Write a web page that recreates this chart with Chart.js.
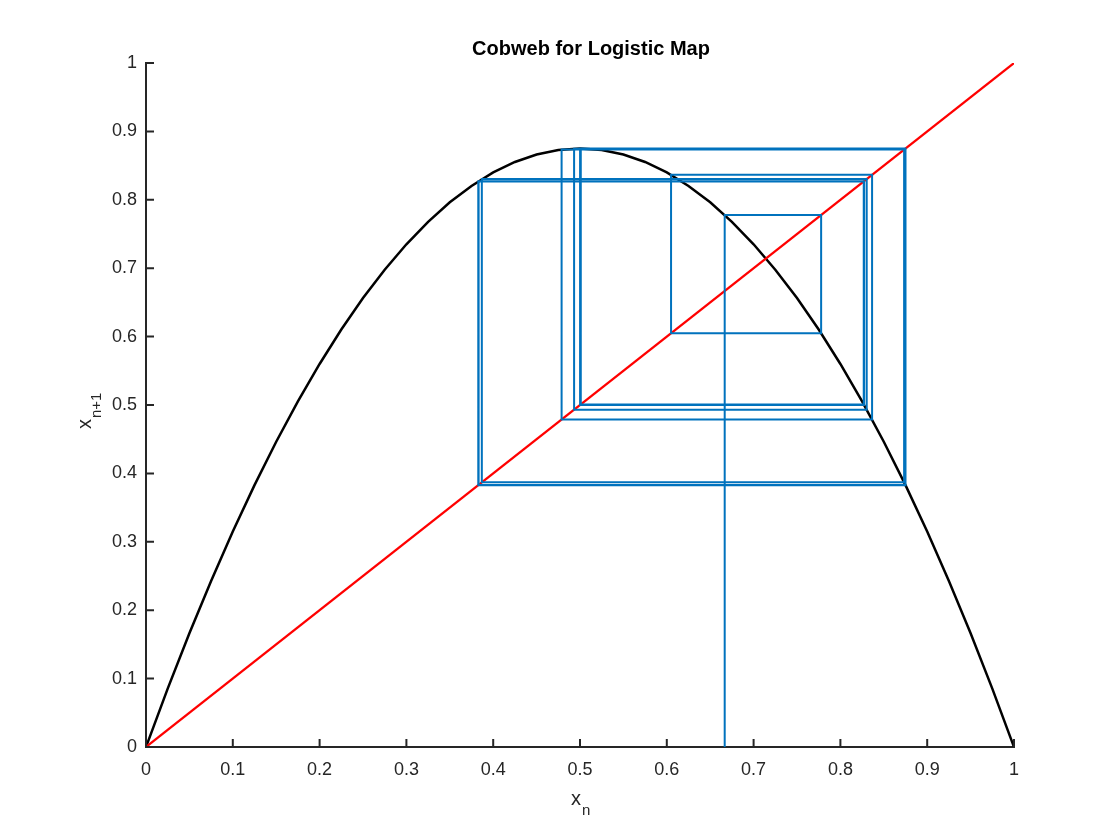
<!DOCTYPE html>
<html>
<head>
<meta charset="utf-8">
<script src="https://cdn.jsdelivr.net/npm/chart.js@4"></script>
<style>
  html, body { margin: 0; padding: 0; background: #fff; }
  #wrap { width: 1120px; height: 840px; }
</style>
</head>
<body>
<div id="wrap"><canvas id="cobweb" width="1120" height="840"></canvas></div>
<script>
// tick labels
const xTickLabels = ['0','0.1','0.2','0.3','0.4','0.5','0.6','0.7','0.8','0.9','1'];
const yTickLabels = ['0','0.1','0.2','0.3','0.4','0.5','0.6','0.7','0.8','0.9','1'];

// logistic curve (r ~ 3.5)
const curveX = [0,0.025,0.05,0.075,0.1,0.125,0.15,0.175,0.2,0.225,0.25,0.275,0.3,0.325,0.35,0.375,0.4,0.425,0.45,0.475,0.5,
                0.525,0.55,0.575,0.6,0.625,0.65,0.675,0.7,0.725,0.75,0.775,0.8,0.825,0.85,0.875,0.9,0.925,0.95,0.975,1];
const curveY = [0,0.0853,0.1663,0.2428,0.315,0.3828,0.4463,0.5053,0.56,0.6103,0.6563,0.6978,0.735,0.7678,0.7963,0.8203,0.84,0.8553,0.8663,0.8728,0.875,
                0.8728,0.8663,0.8553,0.84,0.8203,0.7963,0.7678,0.735,0.6978,0.6563,0.6103,0.56,0.5053,0.4463,0.3828,0.315,0.2428,0.1663,0.0853,0];

// diagonal y = x
const diagX = [0, 1];
const diagY = [0, 1];

// orbit values x0, x1, x2 ... (cobweb corners)
const orbit = [0.6667,0.7778,0.6049,0.8365,0.4788,0.8734,0.3869,0.8303,0.4932,0.8748,0.3832,0.8273,0.5001,0.875,
               0.3828,0.8269,0.5009,0.875,0.3828,0.8269,0.5009,0.875,0.3828,0.8269,0.5009,0.875];

const FONT = '"Liberation Sans", Arial, Helvetica, sans-serif';
const AXIS = '#262626';

function pts(xs, ys){ return xs.map((x, i) => ({ x: x, y: ys[i] })); }

function cobwebPts(o){
  const p = [{ x: o[0], y: 0 }];
  for (let i = 0; i < o.length - 1; i++){
    p.push({ x: o[i], y: o[i+1] });
    p.push({ x: o[i+1], y: o[i+1] });
  }
  return p;
}

// inward ticks, title and subscripted axis labels
const decor = {
  id: 'decor',
  afterDraw(chart){
    const ctx = chart.ctx;
    const xs = chart.scales.x, ys = chart.scales.y;
    const a = chart.chartArea;
    ctx.save();
    ctx.strokeStyle = AXIS;
    ctx.lineWidth = 2;
    ctx.beginPath();
    xs.ticks.forEach(t => {
      const px = xs.getPixelForValue(t.value);
      ctx.moveTo(px, a.bottom); ctx.lineTo(px, a.bottom - 8);
    });
    ys.ticks.forEach(t => {
      const py = ys.getPixelForValue(t.value);
      ctx.moveTo(a.left, py); ctx.lineTo(a.left + 8, py);
    });
    ctx.stroke();

    ctx.fillStyle = '#000';
    ctx.font = 'bold 20px ' + FONT;
    ctx.textAlign = 'center';
    ctx.textBaseline = 'alphabetic';
    ctx.fillText('Cobweb for Logistic Map', (a.left + a.right) / 2 + 11, 55);

    ctx.fillStyle = AXIS;
    // x label: x_n
    ctx.font = '20px ' + FONT;
    ctx.textAlign = 'left';
    ctx.fillText('x', 571, 805);
    ctx.font = '15px ' + FONT;
    ctx.fillText('n', 582, 815);

    // y label: x_{n+1}
    ctx.translate(91, 429);
    ctx.rotate(-Math.PI / 2);
    ctx.font = '20px ' + FONT;
    ctx.fillText('x', 0, 0);
    ctx.font = '15px ' + FONT;
    ctx.fillText('n+1', 11, 10);
    ctx.restore();
  }
};

const ctx = document.getElementById('cobweb').getContext('2d');
const chart = new Chart(ctx, {
  type: 'scatter',
  data: {
    datasets: [
      { label: 'cobweb', data: cobwebPts(orbit), showLine: true, borderColor: '#0072BD', borderWidth: 2,
        pointRadius: 0, tension: 0, order: 1 },
      { label: 'diag', data: pts(diagX, diagY), showLine: true, borderColor: '#ff0000', borderWidth: 2.2,
        pointRadius: 0, order: 2 },
      { label: 'map', data: pts(curveX, curveY), showLine: true, borderColor: '#000000', borderWidth: 2.5,
        pointRadius: 0, tension: 0, order: 3 }
    ]
  },
  options: {
    responsive: false,
    animation: false,
    events: [],
    layout: { padding: { left: 0, right: 106, top: 63, bottom: 0 } },
    plugins: { legend: { display: false }, tooltip: { enabled: false }, title: { display: false } },
    scales: {
      x: {
        type: 'linear', min: 0, max: 1,
        afterFit(s){ s.height = 93; },
        border: { display: true, color: AXIS, width: 2 },
        grid: { display: false, drawTicks: false },
        ticks: {
          stepSize: 0.1, padding: 12, color: AXIS, maxRotation: 0,
          font: { family: FONT, size: 18 },
          callback: (v, i) => xTickLabels[i]
        }
      },
      y: {
        type: 'linear', min: 0, max: 1,
        afterFit(s){ s.width = 146; },
        border: { display: true, color: AXIS, width: 2 },
        grid: { display: false, drawTicks: false },
        ticks: {
          stepSize: 0.1, padding: 9, color: AXIS,
          font: { family: FONT, size: 18 },
          callback: (v, i) => yTickLabels[i]
        }
      }
    }
  },
  plugins: [decor]
});
</script>
</body>
</html>
